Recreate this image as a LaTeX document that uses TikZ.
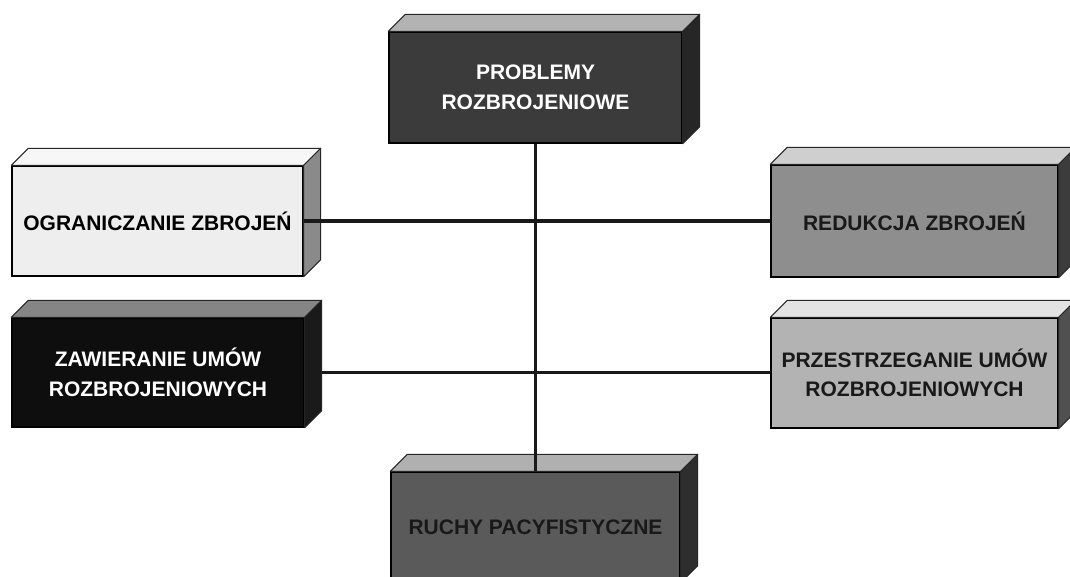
\documentclass[tikz,border=0pt]{standalone}
\usepackage{fontspec}
\setmainfont{Liberation Sans}
\usetikzlibrary{calc}
\newcommand{\cubefaces}[3]{%
  \filldraw[facestyle, fill=#2] (#1.north west) -- ++(17,-17) -- ($(#1.north east)+(17,-17)$) -- (#1.north east) -- cycle;
  \filldraw[facestyle, fill=#3] (#1.north east) -- ++(17,-17) -- ($(#1.south east)+(17,-17)$) -- (#1.south east) -- cycle;
}
\begin{document}
\begin{tikzpicture}[x=1pt,y=-1pt,
  frontbox/.style={draw=black, line width=1.4pt, rectangle, inner sep=0pt,
    minimum width=291pt, minimum height=110pt, align=center,
    font=\fontsize{21}{29.5}\selectfont\bfseries},
  facestyle/.style={draw=black!85, line width=1pt, line join=round},
  link/.style={draw=black!90, line width=3.8pt}
]
\useasboundingbox (0,0) rectangle (1070,577);
\clip (0,0) rectangle (1070,577);
\fill[white] (0,0) rectangle (1070,577);

\definecolor{pfront}{HTML}{3B3B3B}\definecolor{ptop}{HTML}{B3B3B3}\definecolor{pside}{HTML}{262626}
\definecolor{ofront}{HTML}{EEEEEE}\definecolor{otop}{HTML}{F7F7F7}\definecolor{oside}{HTML}{8A8A8A}
\definecolor{rfront}{HTML}{8E8E8E}\definecolor{rtop}{HTML}{CFCFCF}\definecolor{rside}{HTML}{3C3C3C}
\definecolor{zfront}{HTML}{0E0E0E}\definecolor{ztop}{HTML}{858585}\definecolor{zside}{HTML}{1A1A1A}
\definecolor{sfront}{HTML}{B3B3B3}\definecolor{stop}{HTML}{E3E3E3}\definecolor{sside}{HTML}{505050}
\definecolor{cfront}{HTML}{5A5A5A}\definecolor{ctop}{HTML}{B0B0B0}\definecolor{cside}{HTML}{2E2E2E}

\node[frontbox, fill=pfront, text=white, minimum width=293pt, minimum height=111pt] (prob) at (535.5,87.5) {PROBLEMY\\ROZBROJENIOWE};
\cubefaces{prob}{ptop}{pside}

\node[frontbox, fill=ofront, text=black] (ogr) at (157.5,221) {OGRANICZANIE ZBROJEŃ};
\cubefaces{ogr}{otop}{oside}

\node[frontbox, fill=rfront, text=black!90, minimum width=287pt, minimum height=112pt] (red) at (914.5,221) {REDUKCJA ZBROJEŃ};
\cubefaces{red}{rtop}{rside}

\node[frontbox, fill=zfront, text=white, minimum width=292pt, minimum height=109pt] (zaw) at (158,372.5) {ZAWIERANIE UMÓW\\ROZBROJENIOWYCH};
\cubefaces{zaw}{ztop}{zside}

\node[frontbox, fill=sfront, text=black!90, minimum width=287pt] (prz) at (914.5,373) {PRZESTRZEGANIE UMÓW\\ROZBROJENIOWYCH};
\cubefaces{prz}{stop}{sside}

\node[frontbox, fill=cfront, text=black!90, minimum width=289pt] (ruch) at (535.5,527) {RUCHY PACYFISTYCZNE};
\cubefaces{ruch}{ctop}{cside}

\coordinate (zawR) at ($(zaw.east)+(17,0)$);
\draw[link] (prob.south) -- (ruch.north);
\draw[link] (ogr.east) -- (red.west);
\draw[link] (zawR) -- (zawR -| prz.west);
\end{tikzpicture}
\end{document}
